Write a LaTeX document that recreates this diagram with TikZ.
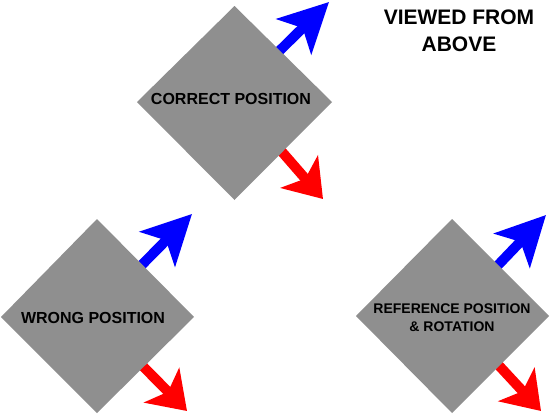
\documentclass[tikz,border=0pt]{standalone}
\usepackage{fontspec}
\setmainfont{Liberation Sans}
\usetikzlibrary{arrows.meta}
\definecolor{boxgray}{HTML}{8F8F8F}
\begin{document}
\begin{tikzpicture}[x=1pt,y=-1pt,
  board/.style={fill=boxgray, draw=none},
  lbl/.style={font=\bfseries\fontsize{16}{19}\selectfont, align=center, inner sep=0pt},
  smalllbl/.style={font=\bfseries\fontsize{14}{18}\selectfont, align=center, inner sep=0pt},
  titlelbl/.style={font=\bfseries\fontsize{21}{27}\selectfont, align=center, inner sep=0pt},
  uparrow/.style={draw=blue, line width=10pt, -{Stealth[length=49pt, width=49pt, inset=12pt]}},
  downarrow/.style={draw=red, line width=10pt, -{Stealth[length=36pt, width=49pt, inset=9pt]}}]
\useasboundingbox (0,0) rectangle (550,415);

% arrow anchors
\coordinate (cbS) at (260,70);  \coordinate (cbT) at (329,2);
\coordinate (crS) at (263,130); \coordinate (crT) at (323,199);
\coordinate (wbS) at (123,284); \coordinate (wbT) at (192,214);
\coordinate (wrS) at (124,347); \coordinate (wrT) at (187,411);
\coordinate (rbS) at (480,284); \coordinate (rbT) at (546,215);
\coordinate (rrS) at (479,344); \coordinate (rrT) at (541,411);

\draw[uparrow] (cbS) -- (cbT);
\draw[downarrow] (crS) -- (crT);
\draw[uparrow] (wbS) -- (wbT);
\draw[downarrow] (wrS) -- (wrT);
\draw[uparrow] (rbS) -- (rbT);
\draw[downarrow] (rrS) -- (rrT);

% diamonds
\fill[board] (234.5,6) -- (332,102) -- (234.5,200) -- (137,102) -- cycle;
\fill[board] (97,219) -- (194,317) -- (97,413) -- (1,317) -- cycle;
\fill[board] (452,219) -- (549,316) -- (452,413) -- (356,316) -- cycle;

% labels
\node[lbl] (correct) at (231,99) {CORRECT POSITION};
\node[lbl] (wrong) at (93,317.5) {WRONG POSITION};
\node[smalllbl] (reference) at (452,318) {REFERENCE POSITION\\\& ROTATION};
\node[titlelbl] (title) at (459,31) {VIEWED FROM\\ABOVE};
\end{tikzpicture}
\end{document}
